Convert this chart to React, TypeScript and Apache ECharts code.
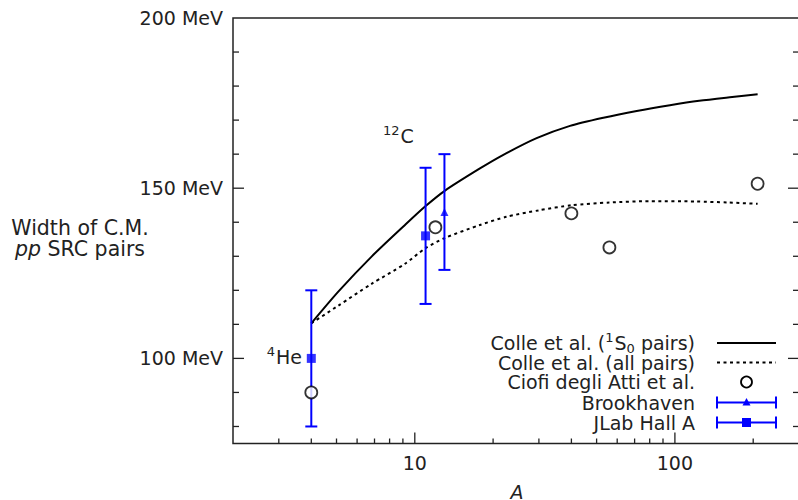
import React, { useEffect, useRef } from "react";
import * as echarts from "echarts";

// ---- data ----
const colleS0A = [4, 5.08, 6.82, 9.17, 10.95, 13.07, 17.8, 21.9, 29.4, 39.5, 53.1, 71.3, 95.7, 124, 166, 208];
const colleS0W = [110.3, 119.6, 129.9, 139.2, 144.6, 149.3, 155.8, 159.8, 164.7, 168.3, 170.7, 172.7, 174.4, 175.7, 176.8, 177.6];
const colleAllA = [4, 5.08, 6.82, 9.17, 10.95, 13.07, 17.8, 22.5, 30, 40, 56, 80, 120, 160, 208];
const colleAllW = [110.3, 115.5, 121.9, 127.8, 132.3, 135.4, 139.2, 141.6, 143.5, 145, 145.8, 146.2, 146.1, 145.8, 145.4];
const ciofiA = [4, 12, 40, 56, 208];
const ciofiW = [90, 138.5, 142.6, 132.6, 151.3];
const bnlA = [13];
const bnlW = [143];
const bnlErr = [17];
const jlabA = [4, 11];
const jlabW = [100, 136];
const jlabErr = [20, 20];

const xMajorTicks = [10, 100];
const xMinorTicks = [3, 4, 5, 6, 7, 8, 9, 20, 30, 40, 50, 60, 70, 80, 90, 200, 300];
const yMajorTicks = [100, 150];
const yMinorTicks = [80, 90, 110, 120, 130, 140, 160, 170, 180, 190];
const yLabelValues = [100, 150, 200];
const xLabelValues = [10, 100];

const X_MIN = 2;
const X_MAX = 300;
const Y_MIN = 75;
const Y_MAX = 200;

const FONT = "'DejaVu Sans', sans-serif";
const TEXT = "#222";
const AXIS = "#222";
const BLUE = "#0000ff";

const richScript = {
  sup: { fontSize: 13, fontFamily: FONT, fill: TEXT, lineHeight: 7, padding: [0, 1, 12, 0] },
  sub: { fontSize: 13, fontFamily: FONT, fill: TEXT, lineHeight: 9, padding: [10, 0, 0, 0] },
  i: { fontStyle: "italic", fontSize: 20.5, fontFamily: FONT, fill: TEXT, lineHeight: 21 },
  n: { fontSize: 20.5, fontFamily: FONT, fill: TEXT, lineHeight: 21 },
};

export default function App() {
  const ref = useRef<HTMLDivElement>(null);

  useEffect(() => {
    if (!ref.current) return;
    const chart = echarts.init(ref.current, undefined, { renderer: "svg" });

    const pair = (a: number[], b: number[]) => a.map((v, i) => [v, b[i]]);
    const triple = (a: number[], b: number[], c: number[]) => a.map((v, i) => [v, b[i], c[i]]);

    const xTickData = [
      ...xMajorTicks.map((v) => [v, Y_MIN, 11]),
      ...xMinorTicks.map((v) => [v, Y_MIN, 5]),
    ];
    const yTickData = [
      ...yMajorTicks.map((v) => [X_MIN, v, 11]),
      ...yMinorTicks.map((v) => [X_MIN, v, 6]),
    ];

    const errRender = (params: any, api: any) => {
      const x = api.value(0);
      const y = api.value(1);
      const e = api.value(2);
      const top = api.coord([x, y + e]);
      const bot = api.coord([x, y - e]);
      const hw = 6;
      const st = { stroke: BLUE, lineWidth: 2 };
      return {
        type: "group",
        children: [
          { type: "line", shape: { x1: top[0], y1: top[1], x2: bot[0], y2: bot[1] }, style: st },
          { type: "line", shape: { x1: top[0] - hw, y1: top[1], x2: top[0] + hw, y2: top[1] }, style: st },
          { type: "line", shape: { x1: bot[0] - hw, y1: bot[1], x2: bot[0] + hw, y2: bot[1] }, style: st },
        ],
      };
    };

    const lx1 = 717;
    const lx2 = 776;
    const lmid = 746.5;
    const ltx = 695;
    const ly = [343, 362.5, 382, 402.5, 422.5];

    const legendErr = (y: number) => [
      { type: "line", shape: { x1: lx1, y1: y, x2: lx2, y2: y }, style: { stroke: BLUE, lineWidth: 2 } },
      { type: "line", shape: { x1: lx1, y1: y - 6, x2: lx1, y2: y + 6 }, style: { stroke: BLUE, lineWidth: 2 } },
      { type: "line", shape: { x1: lx2, y1: y - 6, x2: lx2, y2: y + 6 }, style: { stroke: BLUE, lineWidth: 2 } },
    ];

    const legendText = (t: string, y: number) => ({
      type: "text",
      x: ltx,
      y,
      style: {
        text: t,
        font: `19px ${FONT}`,
        fill: TEXT,
        lineHeight: 19,
        align: "right",
        verticalAlign: "middle",
        rich: richScript,
      },
    });

    chart.setOption({
      animation: false,
      grid: {
        left: 233,
        top: 18,
        width: 566,
        height: 425.5,
        show: true,
        borderColor: AXIS,
        borderWidth: 1.5,
        backgroundColor: "transparent",
        outerBoundsMode: "none",
      },
      xAxis: {
        type: "log",
        logBase: 10,
        min: X_MIN,
        max: X_MAX,
        axisLine: { show: false },
        axisTick: { show: false },
        splitLine: { show: false },
        minorTick: { show: false },
        axisLabel: {
          margin: 10,
          fontSize: 19,
          fontFamily: FONT,
          color: TEXT,
          showMinLabel: false,
          showMaxLabel: false,
          formatter: (v: number) => {
            const hit = xLabelValues.find((t) => Math.abs(t - v) / t < 1e-6);
            return hit ? String(hit) : "";
          },
        },
      },
      yAxis: {
        type: "value",
        min: Y_MIN,
        max: Y_MAX,
        interval: 25,
        axisLine: { show: false },
        axisTick: { show: false },
        splitLine: { show: false },
        axisLabel: {
          margin: 10,
          fontSize: 19,
          fontFamily: FONT,
          color: TEXT,
          formatter: (v: number) => (yLabelValues.some((t) => Math.abs(t - v) < 1e-6) ? `${v} MeV` : ""),
        },
      },
      series: [
        {
          type: "custom",
          name: "xticks",
          data: xTickData,
          encode: { x: 0, y: 1 },
          silent: true,
          renderItem: (params: any, api: any) => {
            const p = api.coord([api.value(0), Y_MIN]);
            const len = api.value(2);
            return {
              type: "line",
              shape: { x1: p[0], y1: p[1], x2: p[0], y2: p[1] - len },
              style: { stroke: AXIS, lineWidth: 1.3 },
            };
          },
        },
        {
          type: "custom",
          name: "yticks",
          data: yTickData,
          encode: { x: 0, y: 1 },
          silent: true,
          renderItem: (params: any, api: any) => {
            const v = api.value(1);
            const len = api.value(2);
            const l = api.coord([X_MIN, v]);
            const r = api.coord([X_MAX, v]);
            return {
              type: "group",
              children: [
                { type: "line", shape: { x1: l[0], y1: l[1], x2: l[0] + len, y2: l[1] }, style: { stroke: AXIS, lineWidth: 1.3 } },
                { type: "line", shape: { x1: r[0], y1: r[1], x2: r[0] - len, y2: r[1] }, style: { stroke: AXIS, lineWidth: 1.3 } },
              ],
            };
          },
        },
        {
          type: "line",
          name: "Colle et al. (1S0 pairs)",
          data: pair(colleS0A, colleS0W),
          smooth: 0.25,
          symbol: "none",
          lineStyle: { color: "#000", width: 2 },
          z: 3,
        },
        {
          type: "line",
          name: "Colle et al. (all pairs)",
          data: pair(colleAllA, colleAllW),
          smooth: 0.25,
          symbol: "none",
          lineStyle: { color: "#000", width: 2, type: [3, 3.5] },
          z: 3,
        },
        {
          type: "custom",
          name: "JLab Hall A err",
          data: triple(jlabA, jlabW, jlabErr),
          encode: { x: 0, y: 1 },
          renderItem: errRender,
          z: 4,
        },
        {
          type: "custom",
          name: "Brookhaven err",
          data: triple(bnlA, bnlW, bnlErr),
          encode: { x: 0, y: 1 },
          renderItem: errRender,
          z: 4,
        },
        {
          type: "scatter",
          name: "JLab Hall A",
          data: pair(jlabA, jlabW),
          symbol: "rect",
          symbolSize: 9,
          itemStyle: { color: BLUE },
          z: 5,
        },
        {
          type: "scatter",
          name: "Brookhaven",
          data: pair(bnlA, bnlW),
          symbol: "triangle",
          symbolSize: [8, 8],
          itemStyle: { color: BLUE },
          z: 5,
        },
        {
          type: "scatter",
          name: "Ciofi degli Atti et al.",
          data: pair(ciofiA, ciofiW),
          symbol: "circle",
          symbolSize: 12,
          itemStyle: { color: "#fff", borderColor: "#000", borderWidth: 1.8 },
          z: 6,
        },
      ],
      graphic: [
        {
          type: "text",
          x: 80,
          y: 238.5,
          style: {
            text: "{n|Width of C.M.}\n{i|pp}{n| SRC pairs}",
            font: `20.5px ${FONT}`,
            fill: TEXT,
            lineHeight: 21,
            align: "center",
            verticalAlign: "middle",
            rich: richScript,
          },
        },
        {
          type: "text",
          x: 517,
          y: 492,
          style: { text: "A", font: `italic 19px ${FONT}`, fill: TEXT, lineHeight: 15, align: "center", verticalAlign: "middle" },
        },
        {
          type: "text",
          x: 302,
          y: 357,
          style: { text: "{sup|4}He", font: `19px ${FONT}`, fill: TEXT, lineHeight: 19, align: "right", verticalAlign: "middle", rich: richScript },
        },
        {
          type: "text",
          x: 383,
          y: 136,
          style: { text: "{sup|12}C", font: `19px ${FONT}`, fill: TEXT, lineHeight: 19, align: "left", verticalAlign: "middle", rich: richScript },
        },
        legendText("Colle et al. ({sup|1}S{sub|0} pairs)", ly[0]),
        legendText("Colle et al. (all pairs)", ly[1]),
        legendText("Ciofi degli Atti et al.", ly[2]),
        legendText("Brookhaven", ly[3]),
        legendText("JLab Hall A", ly[4]),
        { type: "line", shape: { x1: lx1, y1: ly[0], x2: lx2, y2: ly[0] }, style: { stroke: "#000", lineWidth: 2 } },
        { type: "line", shape: { x1: lx1, y1: ly[1], x2: lx2, y2: ly[1] }, style: { stroke: "#000", lineWidth: 2, lineDash: [3, 3.5] } },
        { type: "circle", shape: { cx: lmid, cy: ly[2], r: 5.5 }, style: { fill: "#fff", stroke: "#000", lineWidth: 1.8 } },
        ...legendErr(ly[3]),
        { type: "polygon", shape: { points: [[lmid, ly[3] - 4.5], [lmid - 4, ly[3] + 3], [lmid + 4, ly[3] + 3]] }, style: { fill: BLUE } },
        ...legendErr(ly[4]),
        { type: "rect", shape: { x: lmid - 4.5, y: ly[4] - 4.5, width: 9, height: 9 }, style: { fill: BLUE } },
      ],
    });

    return () => chart.dispose();
  }, []);

  return (
    <div
      ref={ref}
      style={{ position: "fixed", left: 0, top: 0, width: 798, height: 500, background: "#fff" }}
    />
  );
}
